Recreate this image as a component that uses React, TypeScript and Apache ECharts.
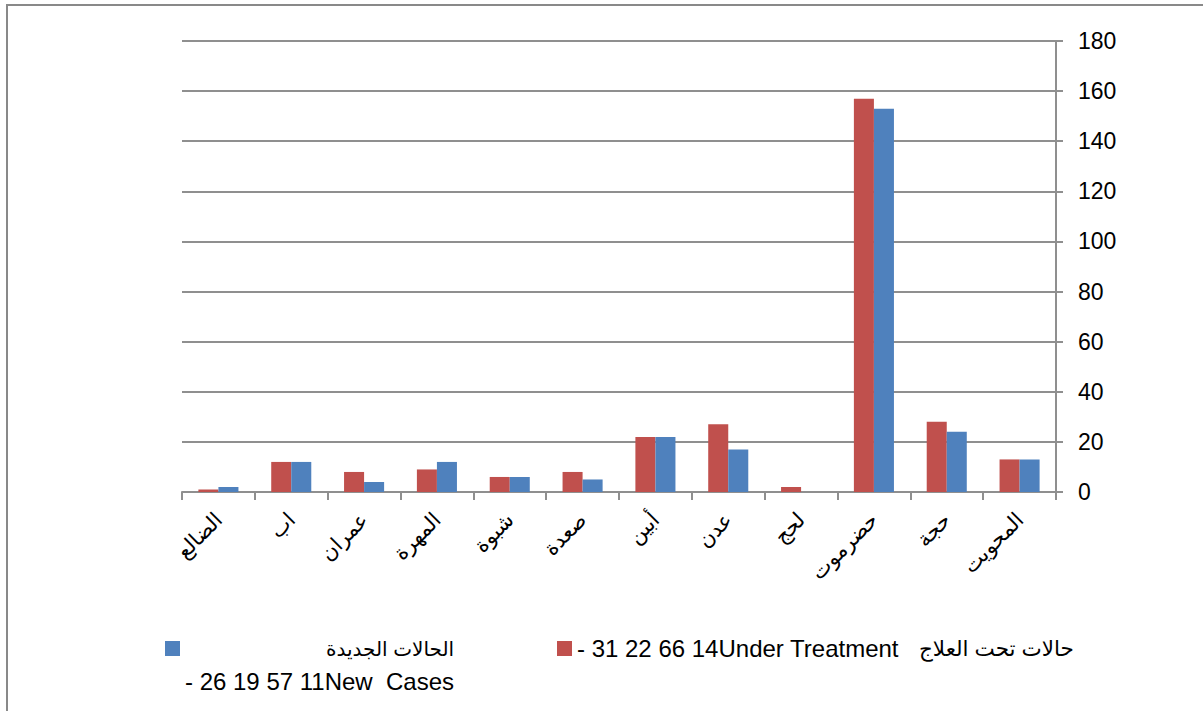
import React, { useEffect, useRef } from "react";
import * as echarts from "echarts";

const categories = ["الضالع", "اب", "عمران", "المهرة", "شبوة", "صعدة", "أبين", "عدن", "لحج", "حضرموت", "حجة", "المحويت"];
const underTreatment = [1, 12, 8, 9, 6, 8, 22, 27, 2, 157, 28, 13];
const newCases = [2, 12, 4, 12, 6, 5, 22, 17, 0, 153, 24, 13];
const underTreatmentLatin = "- 31 22 66 14Under Treatment   ";
const underTreatmentArabic = "حالات تحت العلاج";
const newCasesArabic = "الحالات الجديدة";
const newCasesLatin = "- 26 19 57 11New  Cases";
const underTreatmentName = underTreatmentLatin + underTreatmentArabic;
const newCasesName = newCasesArabic + " " + newCasesLatin;

const FONT = "'Liberation Sans', Arial, 'DejaVu Sans', sans-serif";

export default function App() {
  const ref = useRef<HTMLDivElement>(null);
  useEffect(() => {
    if (!ref.current) return;
    const chart = echarts.init(ref.current, null, { renderer: "svg" });
    const gridColor = "#8f8f8f";
    const rich = {
      ar: { fontSize: 21.5, lineHeight: 33, fontFamily: FONT, color: "#000" },
      arR: { align: "right", fontSize: 20, lineHeight: 33, fontFamily: FONT, color: "#000" },
      la: { fontSize: 24, lineHeight: 33, fontFamily: FONT, color: "#000" },
    };
    chart.setOption({
      animation: false,
      backgroundColor: "#ffffff",
      textStyle: { fontFamily: FONT },
      graphic: [
        {
          type: "rect",
          shape: { x: 7, y: 5, width: 1230, height: 760 },
          style: { fill: "none", stroke: "#898989", lineWidth: 2 },
          silent: true,
        },
      ],
      grid: { left: 182, right: 147, top: 41, bottom: 219, containLabel: false },
      legend: [
        {
          id: "lgNew",
          data: [newCasesName],
          left: 165,
          top: 599,
          padding: 0,
          itemWidth: 15,
          itemHeight: 15,
          icon: "rect",
          itemStyle: { borderWidth: 0 },
          selectedMode: false,
          formatter: () => "\n{arR|" + newCasesArabic + "}\n{la|" + newCasesLatin + "}",
          textStyle: { fontFamily: FONT, fontSize: 24, color: "#000", lineHeight: 33, rich },
        },
        {
          id: "lgUnder",
          data: [underTreatmentName],
          left: 557,
          top: 632,
          padding: 0,
          itemWidth: 15,
          itemHeight: 15,
          icon: "rect",
          itemStyle: { borderWidth: 0 },
          selectedMode: false,
          formatter: () => "{la|" + underTreatmentLatin + "}{ar|" + underTreatmentArabic + "}",
          textStyle: { fontFamily: FONT, fontSize: 24, color: "#000", lineHeight: 33, rich },
        },
      ],
      xAxis: {
        type: "category",
        data: categories,
        axisLine: { show: true, lineStyle: { color: gridColor, width: 2 } },
        axisTick: { show: true, length: 8, alignWithLabel: false, lineStyle: { color: gridColor, width: 2 } },
        axisLabel: {
          rotate: 45,
          interval: 0,
          margin: 24,
          fontSize: 21,
          color: "#000",
          fontFamily: FONT,
        },
        splitLine: { show: false },
      },
      yAxis: {
        type: "value",
        position: "right",
        min: 0,
        max: 180,
        interval: 20,
        axisLine: { show: true, lineStyle: { color: gridColor, width: 2 } },
        axisTick: { show: true, inside: false, length: 7, lineStyle: { color: gridColor, width: 2 } },
        axisLabel: { margin: 22, fontSize: 23, color: "#000", fontFamily: FONT },
        splitLine: { show: true, lineStyle: { color: gridColor, width: 2 } },
      },
      series: [
        {
          name: underTreatmentName,
          type: "bar",
          data: underTreatment,
          barGap: "0%",
          barCategoryGap: "45%",
          itemStyle: { color: "#C0504D" },
        },
        {
          name: newCasesName,
          type: "bar",
          data: newCases,
          barGap: "0%",
          barCategoryGap: "45%",
          itemStyle: { color: "#4F81BD" },
        },
      ],
    });
    return () => chart.dispose();
  }, []);
  return (
    <div
      ref={ref}
      style={{ position: "fixed", left: 0, top: 0, width: 1203, height: 711, background: "#fff" }}
    />
  );
}
